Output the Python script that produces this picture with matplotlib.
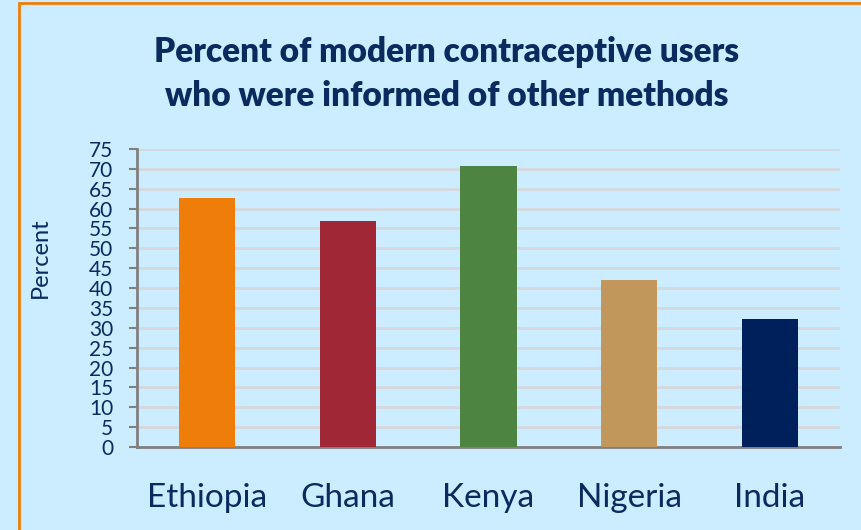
import matplotlib
matplotlib.use("Agg")
import matplotlib.pyplot as plt
from matplotlib.patches import Rectangle

countries = ["Ethiopia", "Ghana", "Kenya", "Nigeria", "India"]
percent = [62.7, 56.9, 70.8, 42.0, 32.2]
colors = ["#EF7D0A", "#A02836", "#4D8442", "#C1975B", "#00205C"]
yticks = list(range(0, 80, 5))

navy = "#0B2A5E"
bg = "#CCECFF"

plt.rcParams["font.family"] = ["Lato", "DejaVu Sans"]

fig = plt.figure(figsize=(8.62, 5.30), dpi=100, facecolor=bg)
ax = fig.add_axes([137 / 862, 1 - 447 / 530, 703 / 862, 298 / 530])
ax.set_facecolor(bg)

x = range(len(countries))
ax.bar(x, percent, width=0.4, color=colors, zorder=3)

ax.set_xlim(-0.5, len(countries) - 0.5)
ax.set_ylim(0, 75)
ax.set_yticks(yticks)
ax.yaxis.grid(True, color="#D6D8DC", linewidth=2, zorder=0)
ax.set_axisbelow(True)

for s in ["top", "right"]:
    ax.spines[s].set_visible(False)
for s in ["left", "bottom"]:
    ax.spines[s].set_color("#808080")
    ax.spines[s].set_linewidth(2)

ax.tick_params(axis="y", colors="#808080", labelcolor=navy, labelsize=15,
               length=6, width=1.5, pad=11)
ax.tick_params(axis="x", length=0, labelcolor=navy, labelsize=24, pad=26)
ax.set_xticks(list(x))
ax.set_xticklabels(countries)

fig.text(40 / 862, 1 - 258 / 530, "Percent", rotation=90, ha="center",
         va="center", color=navy, fontsize=17)

fig.text(447 / 862, 1 - 74 / 530,
         "Percent of modern contraceptive users\nwho were informed of other methods",
         ha="center", va="center", color=navy, fontsize=24, fontweight="heavy",
         linespacing=1.45)

# orange frame (left and top edges visible)
fig.add_artist(Rectangle((19 / 862, -0.1), 1.2, 1 - 3 / 530 + 0.1,
                         transform=fig.transFigure, fill=False,
                         edgecolor="#EF7D0A", linewidth=2))

fig.savefig("out.png", dpi=100, facecolor=bg)
